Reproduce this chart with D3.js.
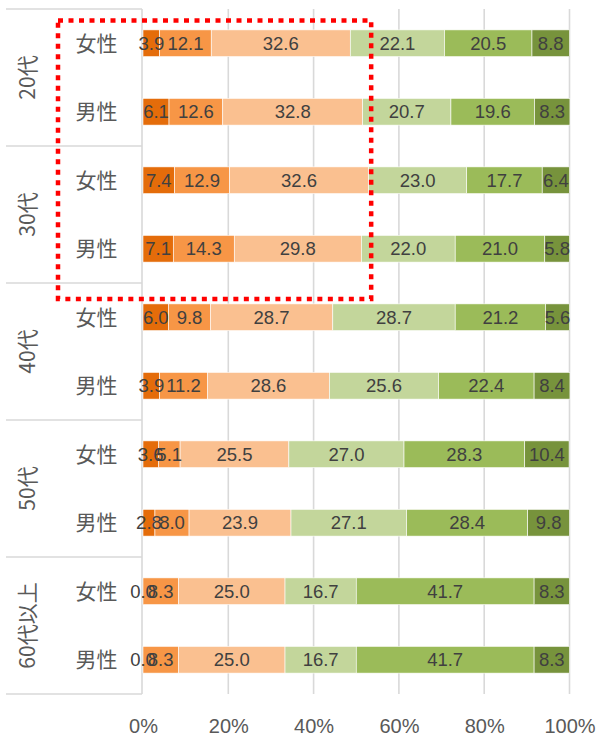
<!DOCTYPE html>
<html>
<head>
<meta charset="utf-8">
<script src="https://cdn.jsdelivr.net/npm/d3@7"></script>
<style>
  body { margin: 0; background: #fff; }
</style>
</head>
<body>
<svg id="chart" width="600" height="737"></svg>
<script>
// Category structure
const ageGroups = ["20代", "30代", "40代", "50代", "60代以上"];
const genders = ["女性", "男性"];

// Six answer levels, stacked left to right (percent)
const seriesKeys = ["s1", "s2", "s3", "s4", "s5", "s6"];
const seriesColors = ["#E46C0A", "#F79646", "#FAC090", "#C3D69B", "#9BBB59", "#77933C"];

// Values per age group: [女性, 男性]
const age20 = [[3.9, 12.1, 32.6, 22.1, 20.5, 8.8], [6.1, 12.6, 32.8, 20.7, 19.6, 8.3]];
const age30 = [[7.4, 12.9, 32.6, 23.0, 17.7, 6.4], [7.1, 14.3, 29.8, 22.0, 21.0, 5.8]];
const age40 = [[6.0, 9.8, 28.7, 28.7, 21.2, 5.6], [3.9, 11.2, 28.6, 25.6, 22.4, 8.4]];
const age50 = [[3.6, 5.1, 25.5, 27.0, 28.3, 10.4], [2.8, 8.0, 23.9, 27.1, 28.4, 9.8]];
const age60 = [[0.0, 8.3, 25.0, 16.7, 41.7, 8.3], [0.0, 8.3, 25.0, 16.7, 41.7, 8.3]];

const xTicks = [0, 20, 40, 60, 80, 100];
const xTickLabels = ["0%", "20%", "40%", "60%", "80%", "100%"];

// Build rows for the stack
const groupValues = [age20, age30, age40, age50, age60];
const rows = [];
ageGroups.forEach((age, gi) => {
  genders.forEach((g, si) => {
    const row = { id: age + "|" + g, age, gender: g };
    seriesKeys.forEach((k, ki) => { row[k] = groupValues[gi][si][ki]; });
    rows.push(row);
  });
});

const svg = d3.select("#chart");
const plotTop = 9, plotBottom = 694;
const leftEdge = 6;

const x = d3.scaleLinear().domain([0, 100]).range([143, 569.5]);
const y = d3.scaleBand()
  .domain(rows.map(d => d.id))
  .range([plotTop, plotBottom])
  .paddingInner(0.61)
  .paddingOuter(0.305);
const groupY = d3.scaleBand().domain(ageGroups).range([plotTop, plotBottom]);
const color = d3.scaleOrdinal().domain(seriesKeys).range(seriesColors);

const gridColor = "#D9D9D9";

// Vertical gridlines
svg.append("g")
  .selectAll("line")
  .data(xTicks)
  .join("line")
  .attr("x1", d => x(d) - (d === 0 ? 1 : 0))
  .attr("x2", d => x(d) - (d === 0 ? 1 : 0))
  .attr("y1", plotTop)
  .attr("y2", plotBottom)
  .attr("stroke", gridColor)
  .attr("stroke-width", 1.6);

// Category axis group separators
const sepYs = ageGroups.map(a => groupY(a)).concat([plotBottom]);
svg.append("g")
  .selectAll("line")
  .data(sepYs)
  .join("line")
  .attr("x1", leftEdge).attr("x2", x(0) - 1)
  .attr("y1", d => d).attr("y2", d => d)
  .attr("stroke", gridColor).attr("stroke-width", 1.6);

// Stacked bars
const stacked = d3.stack().keys(seriesKeys)(rows);
const layers = svg.append("g")
  .selectAll("g")
  .data(stacked)
  .join("g")
  .attr("fill", d => color(d.key));

layers.selectAll("rect")
  .data(d => d)
  .join("rect")
  .attr("x", d => x(d[0]))
  .attr("width", d => Math.max(0, x(d[1]) - x(d[0])))
  .attr("y", d => y(d.data.id))
  .attr("height", y.bandwidth())
  .attr("stroke", "#ffffff")
  .attr("stroke-width", 0.6);

// Value labels centred in each segment
const labelG = svg.append("g")
  .attr("font-family", "'Liberation Sans', Arial, sans-serif")
  .attr("font-size", 18.5)
  .attr("fill", "#404040")
  .attr("text-anchor", "middle");

stacked.forEach(layer => {
  labelG.selectAll(null)
    .data(layer)
    .join("text")
    .attr("x", d => x((d[0] + d[1]) / 2))
    .attr("y", d => y(d.data.id) + y.bandwidth() / 2)
    .attr("dy", "0.36em")
    .text(d => d3.format(".1f")(d.data[layer.key]));
});

// Gender labels
svg.append("g")
  .attr("font-family", "'Noto Sans CJK JP', sans-serif")
  .attr("font-size", 21)
  .attr("fill", "#595959")
  .attr("text-anchor", "middle")
  .selectAll("text")
  .data(rows)
  .join("text")
  .attr("x", 96.5)
  .attr("y", d => y(d.id) + y.bandwidth() / 2)
  .attr("dy", "0.35em")
  .text(d => d.gender);

// Age group labels, rotated
svg.append("g")
  .attr("font-family", "'Noto Sans CJK JP', sans-serif")
  .attr("font-size", 21)
  .attr("fill", "#595959")
  .attr("text-anchor", "middle")
  .selectAll("text")
  .data(ageGroups)
  .join("text")
  .attr("transform", d => `translate(28,${groupY(d) + groupY.bandwidth() / 2}) rotate(-90)`)
  .attr("dy", "0.35em")
  .text(d => d);

// Percent axis
const xAxis = d3.axisBottom(x)
  .tickValues(xTicks)
  .tickFormat((d, i) => xTickLabels[i])
  .tickSize(0)
  .tickPadding(0);
const axG = svg.append("g")
  .attr("transform", `translate(0,${plotBottom})`)
  .call(xAxis);
axG.select(".domain").remove();
axG.selectAll("text")
  .attr("font-family", "'Liberation Sans', Arial, sans-serif")
  .attr("font-size", 20)
  .attr("fill", "#595959")
  .attr("dy", null)
  .attr("y", 39);

// Highlight box around the 20代 and 30代 ranges
const hx0 = 58, hx1 = x(53.5);
const hy0 = 20.5, hy1 = groupY("40代") + 16;
svg.append("rect")
  .attr("x", hx0)
  .attr("y", hy0)
  .attr("width", hx1 - hx0)
  .attr("height", hy1 - hy0)
  .attr("fill", "none")
  .attr("stroke", "#FF0000")
  .attr("stroke-width", 4.5)
  .attr("stroke-dasharray", "5,5.5");
</script>
</body>
</html>
